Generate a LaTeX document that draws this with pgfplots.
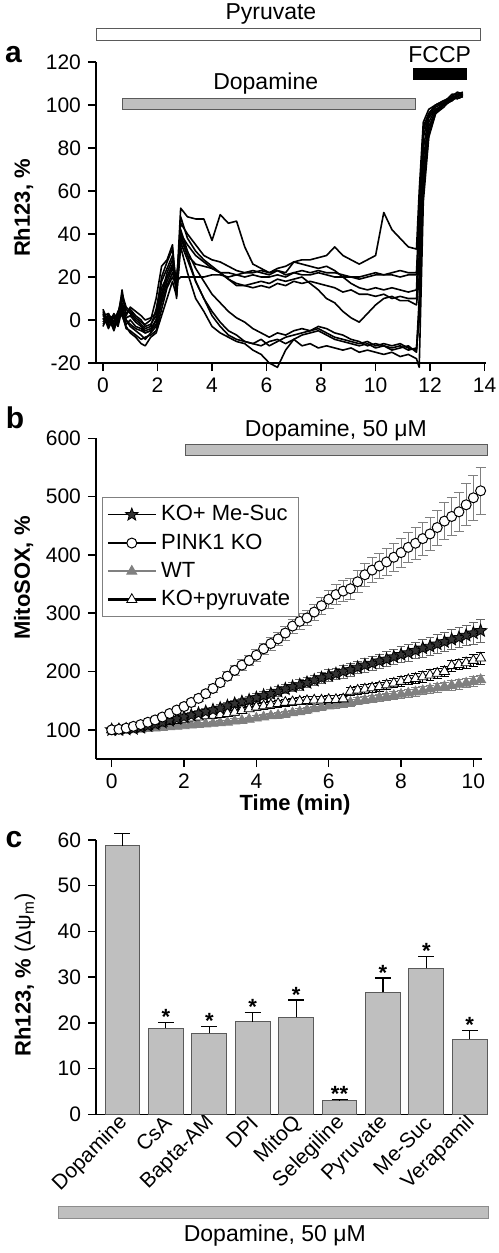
\documentclass[border=0pt]{standalone}
\usepackage{fontspec}
\setmainfont{Liberation Sans}
\usepackage{pgfplots}
\usepackage{pgfplotstable}
\pgfplotsset{compat=1.18}
\definecolor{bargray}{RGB}{191,191,191}
\definecolor{wtgray}{RGB}{128,128,128}
\definecolor{edgegray}{RGB}{90,90,90}

\pgfdeclareplotmark{fstar}{%
  \pgfpathmoveto{\pgfpointpolar{90}{\pgfplotmarksize}}%
  \pgfpathlineto{\pgfpointpolar{126}{0.42\pgfplotmarksize}}%
  \pgfpathlineto{\pgfpointpolar{162}{\pgfplotmarksize}}%
  \pgfpathlineto{\pgfpointpolar{198}{0.42\pgfplotmarksize}}%
  \pgfpathlineto{\pgfpointpolar{234}{\pgfplotmarksize}}%
  \pgfpathlineto{\pgfpointpolar{270}{0.42\pgfplotmarksize}}%
  \pgfpathlineto{\pgfpointpolar{306}{\pgfplotmarksize}}%
  \pgfpathlineto{\pgfpointpolar{342}{0.42\pgfplotmarksize}}%
  \pgfpathlineto{\pgfpointpolar{18}{\pgfplotmarksize}}%
  \pgfpathlineto{\pgfpointpolar{54}{0.42\pgfplotmarksize}}%
  \pgfpathclose
  \pgfusepathqfillstroke
}

% Panel a: Rh123 traces
\pgfplotstableread{
t a1 a2 a3 a4 a5 a6 a7 a8 a9 a10
0.0 4 2 -2 3 0 5 -3 1 2 -1
0.2 -2 3 1 -4 2 -1 3 -3 0 2
0.4 3 -3 -1 2 -5 1 -2 0 -4 1
0.55 0 2 4 -2 1 3 0 -3 2 -2
0.7 14 10 6 8 4 12 3 5 2 7
0.85 2 5 0 3 -2 6 -4 1 -3 0
1.0 6 3 -2 5 0 4 -5 2 -6 -3
1.2 4 0 -4 2 -3 1 -7 -1 -8 -5
1.4 2 -2 -5 0 -4 -1 -9 -3 -11 -7
1.55 0 -4 -6 -3 -6 -2 -8 -5 -12 -9
1.75 1 -3 -5 -2 -5 0 -7 -4 -8 -6
1.95 3 5 0 2 -2 10 -5 0 -6 -3
2.15 20 18 12 15 10 25 5 12 2 8
2.35 27 24 22 20 18 28 15 20 10 16
2.55 33 30 28 26 24 35 20 25 18 22
2.7 15 12 18 14 20 10 16 13 11 17
2.85 52 40 20 45 38 48 42 36 34 40
3.1 48 35 20 40 30 38 32 28 22 30
3.4 47 30 20 35 26 32 24 18 10 18
3.7 47 27 20 30 25 28 18 10 4 10
4.0 37 24 21 28 24 25 12 4 -3 2
4.3 49 22 21 27 22 22 8 -1 -6 -3
4.6 45 22 20 25 19 19 4 -5 -8 -7
4.9 46 21 21 23 17 16 1 -7 -10 -9
5.2 34 22 20 22 16 16 -1 -10 -11 -10
5.5 26 23 21 22 15 17 -4 -11 -14 -11
5.8 24 22 20 23 16 18 -6 -9 -16 -12
6.1 22 21 20 22 15 17 -8 -12 -20 -10
6.4 23 23 21 24 17 19 -6 -10 -22 -9
6.7 22 21 20 25 16 18 -7 -8 -14 -11
7.0 27 22 22 27 18 19 -5 -7 -9 -9
7.3 28 23 21 26 17 20 -4 -6 -12 -7
7.6 28 22 21 25 18 17 -5 -5 -11 -6
7.9 29 23 22 24 17 14 -4 -3 -13 -5
8.2 30 22 21 25 16 10 -6 -4 -12 -7
8.5 34 22 20 23 15 8 -8 -6 -13 -9
8.8 30 21 20 20 13 4 -9 -7 -14 -10
9.1 28 20 20 17 14 1 -10 -9 -13 -11
9.4 26 20 19 15 12 -1 -11 -10 -15 -12
9.7 28 21 20 14 12 3 -10 -12 -14 -11
10.0 30 22 21 15 11 7 -12 -11 -15 -13
10.3 50 21 21 14 12 10 -11 -12 -16 -12
10.6 42 22 21 15 10 11 -12 -13 -15 -14
10.9 38 23 20 14 11 9 -11 -12 -17 -13
11.2 34 22 21 13 10 9 -13 -14 -16 -12
11.5 33 22 21 14 10 7 -14 -13 -18 -15
11.6 60 50 40 45 30 20 10 0 -22 5
11.75 92 90 85 88 80 75 70 65 55 60
11.95 98 96 95 96 94 92 90 88 85 86
12.2 100 100 99 100 98 98 97 97 96 96
12.5 102 101 101 102 100 100 100 101 100 99
12.8 104 103 105 103 104 102 104 103 102 103
13.0 106 104 105 105 103 104 103 105 104 103
13.2 105 105 104 106 104 105 104 104 105 104
}\tracesA

% Panel b: MitoSOX
\pgfplotstableread{
t ms mse ko koe wt wte py pye
0.0 100 2 100 2 100 2 100 2
0.2 100 2 101 2 100 2 101 2
0.4 101 2 103 3 100 2 101 2
0.6 102 3 106 3 100 2 102 3
0.8 104 3 109 3 101 2 103 3
1.0 107 3 113 4 102 2 105 3
1.2 110 3 117 4 103 2 108 3
1.4 113 4 122 4 104 3 111 3
1.6 116 4 128 5 105 3 114 4
1.8 119 4 134 5 106 3 116 4
2.0 122 4 140 5 107 3 118 4
2.2 125 5 147 6 108 3 120 4
2.4 128 5 154 6 109 3 122 4
2.6 131 5 162 6 110 3 124 4
2.8 134 5 171 7 111 3 125 5
3.0 137 6 181 7 112 4 126 5
3.2 141 6 192 8 113 4 128 5
3.4 145 6 202 8 115 4 130 5
3.6 148 6 211 9 116 4 133 5
3.8 151 7 219 9 118 4 136 5
4.0 155 7 228 10 120 4 139 6
4.2 159 7 239 10 122 4 141 6
4.4 162 8 248 11 124 4 143 6
4.6 166 8 256 11 125 5 145 6
4.8 170 8 266 12 127 5 147 6
5.0 174 8 278 12 129 5 148 6
5.2 177 9 286 13 131 5 149 6
5.4 181 9 292 13 134 5 150 7
5.6 185 9 302 14 136 5 151 7
5.8 189 10 313 15 139 5 151 7
6.0 193 10 324 16 141 5 152 7
6.2 196 10 332 17 143 6 152 7
6.4 200 11 338 18 145 6 153 7
6.6 203 11 342 18 147 6 166 7
6.8 207 11 354 19 149 6 168 7
7.0 211 12 366 20 151 6 170 8
7.2 214 12 374 21 153 6 172 8
7.4 218 12 381 22 155 6 174 8
7.6 221 13 388 23 157 6 177 8
7.8 225 13 396 24 159 7 180 8
8.0 229 14 404 25 161 7 183 8
8.2 232 14 413 26 163 7 186 8
8.4 236 14 420 27 165 7 188 8
8.6 240 15 428 28 167 7 191 9
8.8 243 15 436 29 170 7 194 9
9.0 247 16 447 30 172 7 197 9
9.2 251 16 458 32 174 7 200 9
9.4 255 17 466 33 176 8 210 9
9.6 258 17 474 34 178 8 212 9
9.8 262 18 486 36 180 8 215 9
10.0 266 19 498 38 183 8 219 10
10.2 270 20 510 40 186 8 223 10
}\mitosox

\pgfplotsset{
  panel/.style={
    scale only axis, anchor=south west, clip=false,
    axis x line*=bottom, axis y line*=left,
    axis line style={-, line width=0.75pt},
    tick align=outside, major tick length=4pt,
    tick style={line width=0.75pt, black},
    tick label style={font=\fontsize{10.5}{12}\selectfont},
    /pgf/number format/assume math mode=true,
  },
  msstyle/.style={black, line width=0.8pt, mark=fstar, mark size=3.3pt,
    mark options={fill=black!80, draw=black, line width=0.4pt}},
  kostyle/.style={black, line width=0.8pt, mark=*, mark size=2.5pt,
    mark options={fill=white, draw=black, line width=0.5pt}},
  wtstyle/.style={wtgray, line width=0.8pt, mark=triangle*, mark size=2.9pt,
    mark options={fill=wtgray, draw=wtgray, line width=0.4pt}},
  pystyle/.style={black, line width=1.3pt, mark=triangle*, mark size=2.9pt,
    mark options={fill=white, draw=black, line width=0.4pt}},
}
\tikzset{astar/.style={anchor=base, inner sep=0pt, font=\bfseries\fontsize{11}{12}\selectfont}}

\begin{document}
\begin{tikzpicture}
\useasboundingbox (0,0) rectangle (249pt,-626.5pt);

% ---------------- panel a
\begin{axis}[panel, at={(48pt,-181.5pt)}, width=195pt, height=150.5pt,
  xmin=-0.256, xmax=14.05, ymin=-20, ymax=120,
  xtick={0,2,...,14}, ytick={-20,0,...,120}]
\pgfplotsinvokeforeach{1,...,10}{
  \addplot[black, line width=0.8pt, line join=round, no marks] table[x=t,y=a#1]{\tracesA};
}
\draw[fill=white, draw=edgegray, line width=0.5pt] (axis cs:-0.256,129.8) rectangle (axis cs:13.85,135.8);
\node[font=\fontsize{11.5}{13}\selectfont] at (axis cs:6.16,142.3) {Pyruvate};
\draw[fill=bargray, draw=edgegray, line width=0.5pt] (axis cs:0.733,98.1) rectangle (axis cs:11.47,102.8);
\node[font=\fontsize{11.5}{13}\selectfont] at (axis cs:5.97,109.8) {Dopamine};
\fill[black] (axis cs:11.36,111.6) rectangle (axis cs:13.34,117.2);
\node[font=\fontsize{11.5}{13}\selectfont] at (axis cs:12.35,123.3) {FCCP};
\end{axis}

% ---------------- panel b
\begin{axis}[panel, at={(48pt,-379.5pt)}, width=192.85pt, height=160.35pt,
  xmin=-0.434, xmax=10.23, ymin=50, ymax=600,
  xtick={0,2,...,10}, ytick={100,200,...,600},
  legend cell align=left,
  legend image code/.code={\draw[mark repeat=2,mark phase=2,#1] plot coordinates {(0pt,0pt) (12pt,0pt) (24pt,0pt)};},
  legend style={at={(rel axis cs:0.0156,0.817)}, anchor=north west,
    draw=gray, line width=0.5pt, font=\fontsize{11}{12}\selectfont,
    row sep=1pt, inner xsep=2pt, inner ysep=2pt}]
\addlegendimage{msstyle}\addlegendentry{KO+ Me-Suc}
\addlegendimage{kostyle}\addlegendentry{PINK1 KO}
\addlegendimage{wtstyle}\addlegendentry{WT}
\addlegendimage{pystyle}\addlegendentry{KO+pyruvate}
\addplot[wtstyle, forget plot, error bars/.cd, y dir=both, y explicit,
  error bar style={wtgray, line width=0.4pt},
  error mark options={rotate=90, wtgray, mark size=2.2pt, line width=0.4pt}]
  table[x=t, y=wt, y error=wte]{\mitosox};
\addplot[pystyle, forget plot, error bars/.cd, y dir=both, y explicit,
  error bar style={black, line width=0.4pt},
  error mark options={rotate=90, black, mark size=2.2pt, line width=0.4pt}]
  table[x=t, y=py, y error=pye]{\mitosox};
\addplot[msstyle, forget plot, error bars/.cd, y dir=both, y explicit,
  error bar style={black!60, line width=0.4pt},
  error mark options={rotate=90, black!60, mark size=2.2pt, line width=0.4pt}]
  table[x=t, y=ms, y error=mse]{\mitosox};
\addplot[kostyle, forget plot, error bars/.cd, y dir=both, y explicit,
  error bar style={wtgray, line width=0.4pt},
  error mark options={rotate=90, wtgray, mark size=2.5pt, line width=0.4pt}]
  table[x=t, y=ko, y error=koe]{\mitosox};
\draw[fill=bargray, draw=edgegray, line width=0.5pt] (axis cs:2.05,570) rectangle (axis cs:10.38,590);
\node[font=\fontsize{11.5}{13}\selectfont] at (axis cs:6.2,614) {Dopamine, 50 μM};
\end{axis}
\node[font=\bfseries\fontsize{11}{13}\selectfont] at (147.5pt,-402.5pt) {Time (min)};

% ---------------- panel c
\begin{axis}[panel, at={(48pt,-557.15pt)}, width=196pt, height=137.15pt,
  xmin=-0.61, xmax=8.42, ymin=0, ymax=60,
  ytick={0,10,...,60}, xtick={0,...,8},
  xticklabels={Dopamine,CsA,Bapta-AM,DPI,MitoQ,Selegiline,Pyruvate,Me-Suc,Verapamil},
  x tick style={draw=none},
  xticklabel style={rotate=45, anchor=east, xshift=5pt, yshift=0.3pt,
    font=\fontsize{10.5}{12}\selectfont}]
\addplot[ybar, bar width=0.8, fill=bargray, draw=edgegray, line width=0.5pt,
  error bars/.cd, y dir=plus, y explicit,
  error bar style={black, line width=0.6pt},
  error mark options={rotate=90, black, mark size=4pt, line width=0.6pt}]
  coordinates {(0,58.8) +- (0,2.6) (1,18.8) +- (0,1.3) (2,17.7) +- (0,1.5)
    (3,20.3) +- (0,2.0) (4,21.2) +- (0,3.8) (5,3.0) +- (0,0.3)
    (6,26.7) +- (0,3.1) (7,31.9) +- (0,2.6) (8,16.4) +- (0,2.0)};
\node[astar] at (axis cs:1,19.6) {*};
\node[astar] at (axis cs:2,18.7) {*};
\node[astar] at (axis cs:3,21.8) {*};
\node[astar] at (axis cs:4,24.5) {*};
\node[astar] at (axis cs:5,2.8) {**};
\node[astar] at (axis cs:6,29.3) {*};
\node[astar] at (axis cs:7,34.0) {*};
\node[astar] at (axis cs:8,17.9) {*};
\draw[fill=bargray, draw=black!45, line width=0.5pt] (axis cs:-1.463,-22.7) rectangle (axis cs:8.42,-20.07);
\node[font=\fontsize{11.5}{13}\selectfont] at (axis cs:3.51,-26.6) {Dopamine, 50 μM};
\end{axis}

% labels
\node[rotate=90, font=\bfseries\fontsize{11}{13}\selectfont] at (11.75pt,-104pt) {Rh123, \%};
\node[rotate=90, font=\bfseries\fontsize{11}{13}\selectfont] at (11.75pt,-289pt) {MitoSOX, \%};
\node[rotate=90, font=\fontsize{11}{13}\selectfont] at (12.5pt,-487.5pt) {\textbf{Rh123, \%} (Δψ\textsubscript{m})};
\node[font=\bfseries\fontsize{15}{17}\selectfont] at (6.75pt,-27.5pt) {a};
\node[font=\bfseries\fontsize{15}{17}\selectfont] at (7.5pt,-209pt) {b};
\node[font=\bfseries\fontsize{15}{17}\selectfont] at (7pt,-420pt) {c};
\end{tikzpicture}
\end{document}
